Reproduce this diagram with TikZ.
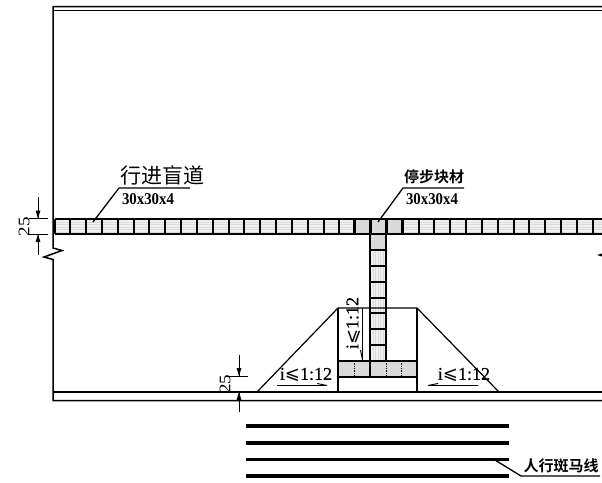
\documentclass[tikz,border=0pt]{standalone}
\usepackage{fontspec}
\setmainfont{Liberation Serif}
\newfontfamily\cjkf{Noto Sans CJK SC}
\newfontfamily\cjkb{Noto Sans CJK SC}[BoldFont={Noto Sans CJK SC Bold}]
\newfontfamily\symf{DejaVu Sans}
\newfontfamily\numf{Liberation Serif}[FakeBold=0.25]
\newcommand{\slopetxt}{i{\symf ⩽}1:12}
\tikzset{
 frameln/.style={draw=black,line width=1.5pt},
 thinln/.style={draw=black,line width=1.2pt},
 band/.style={draw=black,line width=1.7pt},
 sep/.style={draw=black,line width=2pt},
 hatch/.style={draw=black!14,line width=0.8pt},
 zebra/.style={fill=black},
 dimarrow/.style={draw=black,line width=0.9pt},
 sizelab/.style={inner sep=0pt,font=\bfseries\fontsize{16.5}{16.5}\selectfont,xscale=0.9},
 slopelab/.style={inner sep=0pt,font=\numf\fontsize{18}{18}\selectfont},
 dimlab/.style={inner sep=0pt,font=\fontsize{19}{19}\selectfont,xscale=0.85,rotate=90},
 leader/.style={draw=black,line width=1.3pt},
 halfarrow/.style={draw=black,line width=0.9pt},
}
\begin{document}
\begin{tikzpicture}[x=1pt,y=-1pt]
\useasboundingbox (0,0) rectangle (602,482);
% frame
\draw[frameln] (602,6.5) -- (53,6.5) -- (53,248) -- (62,250.5) -- (44,257) -- (53,259.5) -- (53,400.5) -- (602,400.5);
\draw[frameln] (53,10.5) -- (602,10.5);
\draw[frameln] (53,392) -- (602,392);
% running strip
\fill[black!6] (54.5,219) rectangle (602,234);
\foreach \y in {222,224.5,227,229.5,232}{\draw[hatch] (55,\y) -- (602,\y);}
% stop tiles
\fill[black!15] (354,219) rectangle (402,234);
\fill[black!15] (370,234) rectangle (386,250);
% vertical strip
\fill[black!6] (370,250) rectangle (386,361);
\foreach \x in {373,375.5,378,380.5,383}{\draw[hatch] (\x,251) -- (\x,361);}
% strip outlines
\draw[band] (54.5,219) -- (602,219);
\draw[band] (54.5,234) -- (602,234);
\foreach \i in {0,...,34}{\draw[sep] ({54.5+\i*15.83},219) -- ({54.5+\i*15.83},234);}
\draw[line width=2.2pt] (354,219) rectangle (402,234);
\draw[sep] (370,219) -- (370,234) (386,219) -- (386,234);
% vertical strip lines
\draw[band] (370,234) -- (370,361);
\draw[band] (386,234) -- (386,361);
\foreach \y in {250,266,282,297.5,313,329,345}{\draw[sep] (370,\y) -- (386,\y);}
% landing band
\fill[black!15] (338,361) rectangle (417,377);
\draw[band] (338,361) -- (417,361);
\draw[line width=2.4pt] (338,377) -- (417,377);
\draw[sep] (370,361) -- (370,377);
\foreach \x in {354,386,401.5}{\draw[densely dotted,line width=0.7pt] (\x,361) -- (\x,377);}
% ramp
\draw[thinln] (257,392) -- (338,308) -- (417,308) -- (499,392);
\draw[thinln] (338,308) -- (338,392);
\draw[thinln] (417,308) -- (417,392);
% labels
\node[inner sep=0pt,font=\cjkf\fontsize{21}{21}\selectfont] (runlabel) at (162,175.5) {行进盲道};
\node[sizelab] (runsize) at (148,199) {30x30x4};
\coordinate (runshelf) at (190,188);
\coordinate (runelbow) at (119,188);
\coordinate (runtip) at (93,222);
\draw[leader] (runshelf) -- (runelbow) -- (runtip);
\node[inner sep=0pt,font=\cjkb\bfseries\fontsize{15}{15}\selectfont] (stoplabel) at (434,176.5) {停步块材};
\node[sizelab] (stopsize) at (432,199) {30x30x4};
\coordinate (stopshelf) at (464,188);
\coordinate (stopelbow) at (403,188);
\coordinate (stoptip) at (378,222);
\draw[leader] (stopshelf) -- (stopelbow) -- (stoptip);
% zebra
\foreach \y in {426,443,459.5,476}{
 \fill[zebra] (246,\y-1.6) rectangle (509,\y+1.6);}
\node[inner sep=0pt,font=\cjkb\bfseries\fontsize{15}{15}\selectfont] (zebralabel) at (561,465.5) {人行斑马线};
\coordinate (zebratip) at (495,460);
\coordinate (zebraelbow) at (521,476);
\coordinate (zebrashelf) at (600,476);
\draw[leader] (zebratip) -- (zebraelbow) -- (zebrashelf);
% slope labels
\node[slopelab] (slopeL) at (306,375) {\slopetxt};
\node[slopelab] (slopeR) at (464,375) {\slopetxt};
\node[slopelab,rotate=90] (slopeV) at (353.5,323) {\slopetxt};
\coordinate (aLs) at (277,385.5); \coordinate (aLe) at (327,385.5);
\coordinate (aRs) at (478,385.5); \coordinate (aRe) at (428,385.5);
\coordinate (aVs) at (362.5,308); \coordinate (aVe) at (362.5,360);
\draw[halfarrow] (aLs) -- (aLe) -- ++(-10,-2);
\draw[halfarrow] (aRs) -- (aRe) -- ++(10,-2);
\draw[halfarrow] (aVs) -- (aVe) -- ++(-2,-10);
% dimension left
\coordinate (d1a) at (38,197); \coordinate (d1b) at (38,218.5);
\coordinate (d1c) at (38,255); \coordinate (d1d) at (38,234);
\draw[dimarrow] (29,218.5) -- (48,218.5);
\draw[dimarrow] (29,234) -- (48,234);
\draw[dimarrow] (d1a) -- (d1b);
\draw[dimarrow] (d1c) -- (d1d);
\fill (d1b) -- ++(-2.4,-8) -- ++(4.8,0) -- cycle;
\fill (d1d) -- ++(-2.4,8) -- ++(4.8,0) -- cycle;
\node[dimlab] (dimA) at (24,226.5) {25};
% dimension bottom
\coordinate (d2a) at (239,355); \coordinate (d2b) at (239,376);
\coordinate (d2c) at (239,412); \coordinate (d2d) at (239,392);
\draw[dimarrow] (225,376) -- (248,376);
\draw[dimarrow] (d2a) -- (d2b);
\draw[dimarrow] (d2c) -- (d2d);
\fill (d2b) -- ++(-2.4,-8) -- ++(4.8,0) -- cycle;
\fill (d2d) -- ++(-2.4,8) -- ++(4.8,0) -- cycle;
\node[dimlab] (dimB) at (225,384) {25};
% right arrow fragment
\fill (597,255) -- (602,253.5) -- (602,256.5) -- cycle;
\end{tikzpicture}
\end{document}
